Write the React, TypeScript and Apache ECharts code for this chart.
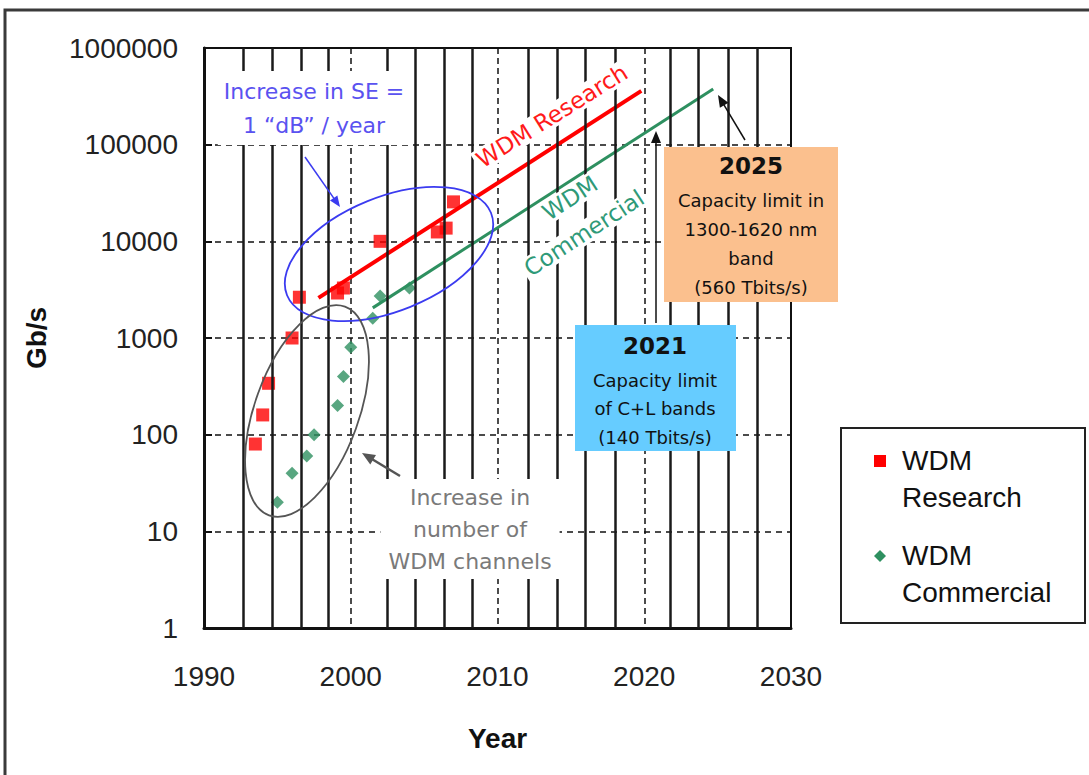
import React, { useEffect, useRef } from "react";
import * as echarts from "echarts";

// ---- data ----
const researchYears = [1993.5, 1994.0, 1994.4, 1996.0, 1996.5, 1999.1, 1999.5, 2002.0, 2005.9, 2006.5, 2007.0];
const researchGbps = [80, 160, 340, 1000, 2640, 2920, 3290, 10000, 12500, 13700, 25600];

const commercialYears = [1995.0, 1996.0, 1997.0, 1997.5, 1999.1, 1999.5, 2000.0, 2001.5, 2002.0, 2004.0];
const commercialGbps = [20, 40, 60, 100, 200, 400, 800, 1600, 2720, 3290];

const researchTrendYears = [1997.8, 2019.8];
const researchTrendGbps = [2600, 360000];
const commercialTrendYears = [2001.5, 2024.7];
const commercialTrendGbps = [2050, 376000];

const verticalLineYears = [
  1992.7, 1994.65, 1996.6, 1998.5, 2002.5, 2004.4, 2006.35, 2008.3,
  2012.1, 2014.05, 2016.0, 2018.0, 2021.8, 2023.7, 2025.7, 2027.7,
];

const xTicks = [1990, 2000, 2010, 2020, 2030];
const yTicks = [1, 10, 100, 1000, 10000, 100000, 1000000];

const zip = (xs: number[], ys: number[]) => xs.map((x, i) => [x, ys[i]]);

const SANS = '"DejaVu Sans", sans-serif';
const ARIAL = '"Liberation Sans", Arial, sans-serif';

function txt(
  x: number,
  y: number,
  text: string,
  opts: any = {}
) {
  return {
    type: "text",
    x,
    y,
    z: opts.z ?? 20,
    rotation: opts.rotation ?? 0,
    silent: true,
    style: {
      text,
      fill: opts.fill ?? "#111",
      fontSize: opts.fontSize ?? 20,
      fontFamily: opts.fontFamily ?? SANS,
      fontWeight: opts.fontWeight ?? "normal",
      align: opts.align ?? "center",
      verticalAlign: "middle",
      lineHeight: opts.lineHeight,
      backgroundColor: opts.bg,
      padding: opts.padding,
    },
  };
}

function arrowHead(tip: [number, number], from: [number, number], len: number, half: number) {
  const dx = tip[0] - from[0];
  const dy = tip[1] - from[1];
  const d = Math.hypot(dx, dy);
  const ux = dx / d;
  const uy = dy / d;
  const bx = tip[0] - ux * len;
  const by = tip[1] - uy * len;
  return [
    [tip[0], tip[1]],
    [bx - uy * half, by + ux * half],
    [bx + uy * half, by - ux * half],
  ];
}

function arrow(from: [number, number], tip: [number, number], color: string, width: number, len: number, half: number) {
  const head = arrowHead(tip, from, len, half);
  const d = Math.hypot(tip[0] - from[0], tip[1] - from[1]);
  const ex = tip[0] - ((tip[0] - from[0]) / d) * (len - 1);
  const ey = tip[1] - ((tip[1] - from[1]) / d) * (len - 1);
  return [
    {
      type: "line",
      z: 25,
      silent: true,
      shape: { x1: from[0], y1: from[1], x2: ex, y2: ey },
      style: { stroke: color, lineWidth: width },
    },
    {
      type: "polygon",
      z: 25,
      silent: true,
      shape: { points: head },
      style: { fill: color },
    },
  ];
}

export default function App() {
  const ref = useRef<HTMLDivElement>(null);

  useEffect(() => {
    document.body.style.margin = "0";
    const chart = echarts.init(ref.current!, null, { renderer: "svg" });

    const option: any = {
      animation: false,
      backgroundColor: "#ffffff",
      grid: {
        left: 204,
        right: 298,
        top: 48,
        bottom: 147,
        show: true,
        borderColor: "#111",
        borderWidth: 2,
      },
      xAxis: {
        type: "value",
        min: xTicks[0],
        max: xTicks[xTicks.length - 1],
        interval: 10,
        name: "Year",
        nameLocation: "middle",
        nameGap: 96,
        nameTextStyle: { fontSize: 28, fontWeight: "bold", fontFamily: ARIAL, color: "#111" },
        axisLine: { show: true, lineStyle: { color: "#111", width: 3 } },
        axisTick: { show: false },
        axisLabel: {
          fontSize: 28,
          fontFamily: ARIAL,
          color: "#222",
          margin: 34,
          formatter: (v: number) => String(v),
        },
        splitLine: { show: true, lineStyle: { color: "#111", width: 1.5, type: [6, 4] } },
      },
      yAxis: {
        type: "log",
        logBase: 10,
        min: yTicks[0],
        max: yTicks[yTicks.length - 1],
        name: "Gb/s",
        nameLocation: "middle",
        nameGap: 154,
        nameRotate: 90,
        nameTextStyle: { fontSize: 28, fontWeight: "bold", fontFamily: ARIAL, color: "#111" },
        axisLine: { show: true, lineStyle: { color: "#111", width: 3 } },
        axisTick: { show: true, inside: true, length: 8, lineStyle: { color: "#111", width: 2 } },
        axisLabel: {
          fontSize: 28,
          fontFamily: ARIAL,
          color: "#222",
          margin: 26,
          formatter: (v: number) => String(Math.round(v)),
        },
        splitLine: { show: true, lineStyle: { color: "#111", width: 1.5, type: [6, 5] } },
      },
      series: [
        {
          name: "grid-verticals",
          type: "line",
          data: [],
          z: 1,
          silent: true,
          markLine: {
            silent: true,
            symbol: ["none", "none"],
            label: { show: false },
            lineStyle: { color: "#1a1a1a", width: 2.5, type: "solid" },
            data: verticalLineYears.map((x) => ({ xAxis: x })),
          },
        },
        {
          name: "Research trend",
          type: "line",
          data: zip(researchTrendYears, researchTrendGbps),
          showSymbol: false,
          symbol: "none",
          z: 3,
          lineStyle: { color: "#ff0000", width: 4 },
        },
        {
          name: "Commercial trend",
          type: "line",
          data: zip(commercialTrendYears, commercialTrendGbps),
          showSymbol: false,
          symbol: "none",
          z: 3,
          lineStyle: { color: "#2e9060", width: 3 },
        },
        {
          name: "WDM Research",
          type: "scatter",
          data: zip(researchYears, researchGbps),
          symbol: "rect",
          symbolSize: 13,
          z: 4,
          itemStyle: { color: "#ff0000" },
        },
        {
          name: "WDM Commercial",
          type: "scatter",
          data: zip(commercialYears, commercialGbps),
          symbol: "diamond",
          symbolSize: 13,
          z: 4,
          itemStyle: { color: "#2e9060" },
        },
      ],
      graphic: {
        elements: [
          // outer frame
          {
            type: "polyline",
            z: 30,
            silent: true,
            shape: { points: [[5, 800], [5, 10], [1100, 10]] },
            style: { stroke: "#3a3a3a", lineWidth: 3, fill: "none" },
          },
          // blue ellipse
          {
            type: "ellipse",
            x: 389,
            y: 254,
            rotation: (22 * Math.PI) / 180,
            z: 22,
            silent: true,
            shape: { cx: 0, cy: 0, rx: 110, ry: 57 },
            style: { fill: "none", stroke: "#3b3bf0", lineWidth: 1.8 },
          },
          // gray ellipse
          {
            type: "ellipse",
            x: 307,
            y: 411,
            rotation: (-20 * Math.PI) / 180,
            z: 22,
            silent: true,
            shape: { cx: 0, cy: 0, rx: 52, ry: 111 },
            style: { fill: "none", stroke: "#555", lineWidth: 1.8 },
          },
          // SE annotation
          txt(314, 108, "Increase in SE =\n1 \u201cdB\u201d / year", {
            fill: "#5a52f0",
            fontSize: 22,
            lineHeight: 34,
            bg: "#fff",
            padding: [3, 6],
          }),
          ...arrow([305, 157], [340, 207], "#3b3bf0", 1.5, 11, 4.5),
          // WDM channels annotation
          txt(470, 529, "Increase in\nnumber of\nWDM channels", {
            fill: "#7a7a7a",
            fontSize: 22,
            lineHeight: 32,
            bg: "#fff",
            padding: [2, 8],
          }),
          ...arrow([400, 476], [362, 453], "#555", 2.5, 13, 5.5),
          // trend labels
          txt(552, 116, "WDM Research", {
            fill: "#ff1a1a",
            fontSize: 23,
            rotation: (32 * Math.PI) / 180,
            bg: "#fff",
            padding: [0, 3],
          }),
          txt(570, 198, "WDM", {
            fill: "#2f9a78",
            fontSize: 23,
            rotation: (33 * Math.PI) / 180,
            bg: "#fff",
            padding: [0, 3],
          }),
          txt(584, 233, "Commercial", {
            fill: "#2f9a78",
            fontSize: 23,
            rotation: (33 * Math.PI) / 180,
            bg: "#fff",
            padding: [0, 3],
          }),
          // orange box 2025
          {
            type: "rect",
            z: 20,
            silent: true,
            shape: { x: 664, y: 147, width: 174, height: 155 },
            style: { fill: "#fbc08e" },
          },
          txt(751, 166, "2025", { fontSize: 23, fontWeight: "bold", z: 21 }),
          txt(751, 200, "Capacity limit in", { fontSize: 18, z: 21 }),
          txt(751, 229, "1300-1620 nm", { fontSize: 18, z: 21 }),
          txt(751, 258, "band", { fontSize: 18, z: 21 }),
          txt(751, 287, "(560 Tbits/s)", { fontSize: 18, z: 21 }),
          // blue box 2021
          {
            type: "rect",
            z: 20,
            silent: true,
            shape: { x: 575, y: 325, width: 161, height: 126 },
            style: { fill: "#66ccff" },
          },
          txt(655, 346, "2021", { fontSize: 23, fontWeight: "bold", z: 21 }),
          txt(655, 380, "Capacity limit", { fontSize: 18, z: 21 }),
          txt(655, 408, "of C+L bands", { fontSize: 18, z: 21 }),
          txt(655, 437, "(140 Tbits/s)", { fontSize: 18, z: 21 }),
          // black arrows
          ...arrow([656, 323], [656, 131], "#111", 1.5, 12, 5),
          ...arrow([745, 140], [718, 95], "#111", 1.5, 12, 5),
          // legend box
          {
            type: "rect",
            z: 20,
            silent: true,
            shape: { x: 841, y: 428, width: 244, height: 195 },
            style: { fill: "#fff", stroke: "#222", lineWidth: 2 },
          },
          {
            type: "rect",
            z: 21,
            silent: true,
            shape: { x: 874, y: 455, width: 12, height: 12 },
            style: { fill: "#ff0000" },
          },
          txt(902, 460, "WDM", { fontSize: 28, fontFamily: ARIAL, align: "left", z: 21 }),
          txt(902, 497, "Research", { fontSize: 28, fontFamily: ARIAL, align: "left", z: 21 }),
          {
            type: "polygon",
            z: 21,
            silent: true,
            shape: { points: [[880, 550], [886, 556], [880, 562], [874, 556]] },
            style: { fill: "#2e9060" },
          },
          txt(902, 555, "WDM", { fontSize: 28, fontFamily: ARIAL, align: "left", z: 21 }),
          txt(902, 592, "Commercial", { fontSize: 28, fontFamily: ARIAL, align: "left", z: 21 }),
        ],
      },
    };

    chart.setOption(option);
    return () => chart.dispose();
  }, []);

  return <div ref={ref} style={{ width: 1089, height: 775 }} />;
}
